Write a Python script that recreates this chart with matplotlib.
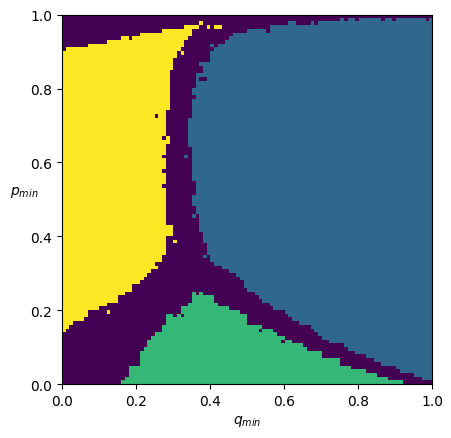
import numpy as np
import matplotlib
matplotlib.use('Agg')
import matplotlib.pyplot as plt

# phase codes: 0 = none (purple), 1 = blue, 2 = green, 3 = yellow
n = 100

# blue region: first blue column for each p-row, and highest blue row for each q-column
blue_start = [100, 97, 95, 91, 90, 86, 84, 82, 79, 77,
              76, 72, 70, 69, 68, 67, 64, 62, 61, 60,
              57, 56, 54, 53, 52, 50, 49, 49, 48, 47,
              45, 43, 41, 40, 40, 39, 39, 39, 38, 38,
              38, 37, 37, 37, 37, 37, 36, 36, 35, 35,
              35, 36, 36, 36, 36, 35, 35, 35, 35, 35,
              35, 35, 35, 35, 34, 34, 34, 34, 34, 34,
              34, 34, 35, 35, 35, 35, 35, 36, 35, 35,
              36, 36, 36, 36, 38, 38, 37, 40, 40, 40,
              41, 42, 44, 45, 46, 46, 46, 46, 46, 46]
blue_top = ([99] * 46 + [94] * 4 + [95] * 5 + [94] + [96] * 5 + [97] * 2 + [96] * 4
            + [97, 96] + [97] * 6 + [98, 97, 98, 98, 97] + [98] * 6 + [97, 98, 98, 97]
            + [98] * 8 + [97, 98])

# yellow region: right edge for each p-row, top row for each q-column
yellow_end = [0, 0, 0, 0, 0, 0, 0, 0, 0, 0,
              0, 0, 0, 0, 1, 2, 3, 6, 7, 7,
              10, 12, 15, 15, 17, 19, 19, 21, 22, 23,
              24, 26, 25, 27, 27, 28, 28, 28, 28, 28,
              30, 30, 30, 28, 28, 28, 28, 28, 28, 28,
              28, 28, 28, 27, 28, 28, 28, 27, 28, 28,
              28, 27, 28, 28, 28, 28, 27, 28, 28, 28,
              28, 28, 28, 28, 29, 29, 29, 29, 29, 29,
              29, 29, 29, 29, 29, 30, 30, 30, 31, 31,
              32, 33, 33, 34, 35, 35, 37, 38, 0, 0]
yellow_top = ([89] + [90] * 6 + [91] * 5 + [92] * 4 + [93] * 2 + [92] + [93] * 2
              + [94] * 6 + [95] * 6 + [96] * 4 + [97] + [99] * 62)

# green region (bottom rows only): start / end column per p-row
green_start = [16, 17, 18, 18, 18, 21, 21, 21, 21, 22,
               23, 23, 24, 25, 27, 27, 28, 28, 28, 32,
               32, 34, 35, 35, 35]
green_end = [92, 88, 85, 82, 78, 75, 75, 70, 70, 66,
             65, 62, 60, 58, 57, 54, 50, 50, 50, 48,
             45, 42, 41, 41, 36]

# isolated cells (q index, p index, phase)
speckles = [(39, 96, 3), (41, 96, 3), (42, 96, 3), (32, 89, 3), (40, 91, 1),
            (37, 82, 0), (38, 82, 0), (25, 72, 0), (28, 65, 3), (28, 66, 3),
            (33, 61, 1), (30, 38, 3), (12, 19, 3), (35, 45, 1), (38, 34, 1),
            (30, 18, 0), (32, 18, 0), (53, 14, 0), (59, 11, 0), (37, 24, 2)]

grid = np.zeros((n, n))
for j in range(n):
    for i in range(n):
        if i >= blue_start[j] and j <= blue_top[i]:
            grid[j, i] = 1
        if j < len(green_start) and green_start[j] <= i < green_end[j]:
            grid[j, i] = 2
        if i < yellow_end[j] and j <= yellow_top[i]:
            grid[j, i] = 3
for i, j, v in speckles:
    grid[j, i] = v

fig = plt.figure(figsize=(4.52, 4.39), dpi=100)
ax = fig.add_axes([0.137, 0.123, 0.819, 0.841])
ax.imshow(grid, origin='lower', extent=[0, 1, 0, 1], cmap='viridis',
          vmin=0, vmax=3, interpolation='nearest', aspect='auto')
ax.set_xlabel('$q_{min}$')
ax.set_ylabel('$p_{min}$', rotation=0)
ax.yaxis.set_label_coords(-0.103, 0.5)
fig.savefig('out.png', dpi=100)
